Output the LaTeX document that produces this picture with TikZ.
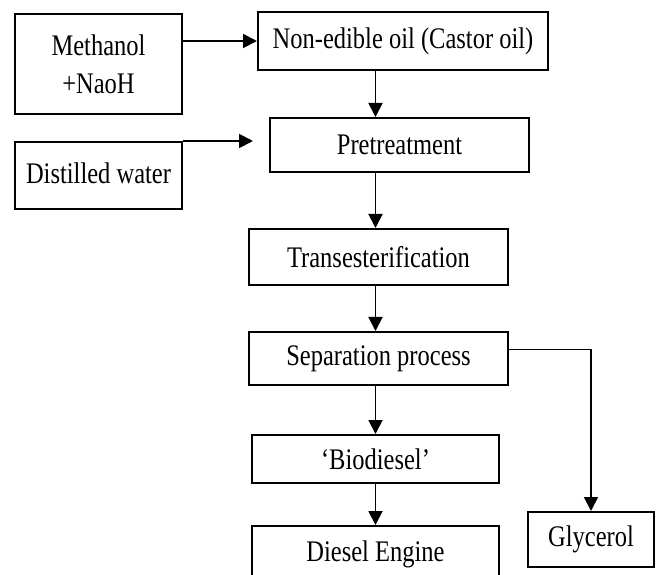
\documentclass[tikz,border=0pt]{standalone}
\usepackage{fontspec}
\setmainfont{Liberation Serif}
\usetikzlibrary{arrows.meta}

\newcommand{\tall}[1]{\scalebox{1}[1.22]{#1}}

\tikzset{
  box/.style={draw, line width=2pt, inner sep=0pt, align=center,
    font=\fontsize{24.5}{38}\selectfont},
  flow/.style={line width=1.9pt, -{Triangle[length=14pt,width=14pt]}}
}

\begin{document}
\begin{tikzpicture}[x=1pt,y=-1pt]
  \useasboundingbox (0,0) rectangle (657,575);
  % inputs
  \node[box, minimum width=167pt, minimum height=100pt] (meth) at (98.5,64) {\tall{Methanol}\\\tall{+NaoH}};
  \node[box, minimum width=167pt, minimum height=67pt] (water) at (98.5,175.5) {\raisebox{5pt}{\tall{Distilled water}}};
  % main line
  \node[box, minimum width=290pt, minimum height=58pt] (oil) at (403,41) {\tall{Non-edible oil (Castor oil)}};
  \node[box, minimum width=259pt, minimum height=54pt] (pre) at (399.5,145) {\tall{Pretreatment}};
  \node[box, minimum width=259pt, minimum height=56pt] (trans) at (378.5,257) {\tall{Transesterification}};
  \node[box, minimum width=259pt, minimum height=53pt] (sep) at (378.5,358.5) {\tall{Separation process}};
  \node[box, minimum width=247pt, minimum height=48pt] (bio) at (375.5,459) {\tall{`Biodiesel'}};
  \node[box, minimum width=247pt, minimum height=56pt] (eng) at (375.5,554) {\tall{Diesel Engine}};
  \node[box, minimum width=126pt, minimum height=55pt] (gly) at (591,539.5) {\tall{Glycerol}};

  \draw[flow] (meth.east |- oil) -- (oil.west);
  \draw[flow] (water.north east) -- ([xshift=-16pt]water.north east -| pre.west);
  \draw[flow] (oil.south -| bio) -- (pre.north -| bio);
  \draw[flow] (pre.south -| bio) -- (trans.north -| bio);
  \draw[flow] (trans.south -| bio) -- (sep.north -| bio);
  \draw[flow] (sep.south -| bio) -- (bio.north);
  \draw[flow] (bio.south) -- (eng.north);
  \draw[flow] ([yshift=9pt]sep.east) -| (gly.north);
\end{tikzpicture}
\end{document}
